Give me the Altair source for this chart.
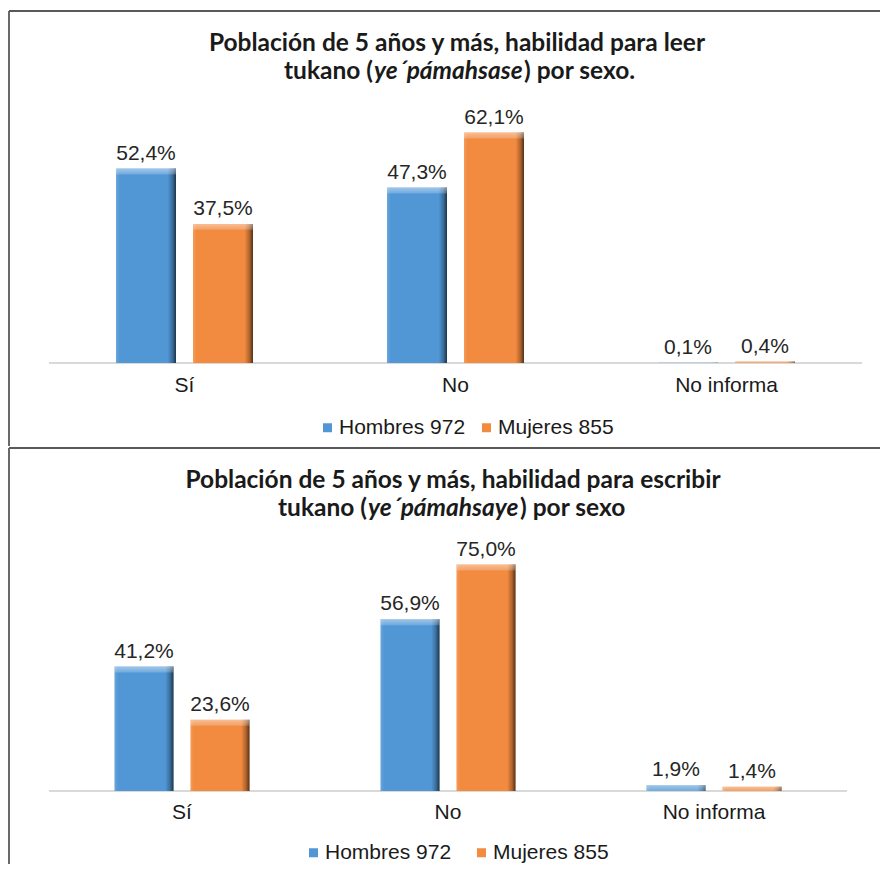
import altair as alt
import pandas as pd

categories = ["Sí", "No", "No informa"]
series = ["Hombres 972", "Mujeres 855"]
leer_hombres = [52.4, 47.3, 0.1]
leer_mujeres = [37.5, 62.1, 0.4]
escribir_hombres = [41.2, 56.9, 1.9]
escribir_mujeres = [23.6, 75.0, 1.4]
title_leer = ["Población de 5 años y más, habilidad para leer", "tukano (", "ye´pámahsase", ") por sexo."]
title_escribir = ["Población de 5 años y más, habilidad para escribir", "tukano (", "ye´pámahsaye", ") por sexo"]
colors = ["#5197d6", "#f28a3f"]

TFONT = "Lato"
LFONT = "Liberation Sans"


def make_df(h, m):
    rows = []
    for s, vals in zip(series, [h, m]):
        for c, v in zip(categories, vals):
            rows.append({"categoria": c, "sexo": s, "valor": v,
                         "etiqueta": f"{v:.1f}".replace(".", ",") + "%"})
    return pd.DataFrame(rows)


shade_grad = alt.Gradient(
    gradient="linear", x1=0, x2=1, y1=0, y2=0,
    stops=[
        alt.GradientStop(offset=0, color="rgba(255,255,255,0.15)"),
        alt.GradientStop(offset=0.06, color="rgba(255,255,255,0)"),
        alt.GradientStop(offset=0.86, color="rgba(0,0,0,0)"),
        alt.GradientStop(offset=0.94, color="rgba(0,0,0,0.28)"),
        alt.GradientStop(offset=1, color="rgba(0,0,0,0.65)"),
    ],
)
top_grad = alt.Gradient(
    gradient="linear", x1=0, x2=0, y1=0, y2=1,
    stops=[
        alt.GradientStop(offset=0, color="rgba(255,255,255,0.45)"),
        alt.GradientStop(offset=1, color="rgba(255,255,255,0.18)"),
    ],
)


def panel(df, titles, g):
    W, H = 873, g["H"]
    one = pd.DataFrame({"k": [0]})
    xs = alt.X("categoria:N", sort=categories, axis=None,
               scale=alt.Scale(paddingInner=0, paddingOuter=g["xpo"], align=g["xal"]))
    xo = alt.XOffset("sexo:N", sort=series,
                     scale=alt.Scale(paddingInner=g["pi"], paddingOuter=g["po"]))
    ys = alt.Y("valor:Q", axis=None, scale=alt.Scale(domain=[0, 100], range=g["yr"]))
    base = alt.Chart(df)

    baseline = alt.Chart(one).mark_rule(color="#d9d9d9", strokeWidth=2).encode(
        x=alt.value(g["xr"][0]), x2=alt.value(g["xr"][1]),
        y=alt.Y(datum=0, type="quantitative", axis=None))
    bars = base.mark_bar().encode(
        x=xs, xOffset=xo, y=ys,
        color=alt.Color("sexo:N", sort=series,
                        scale=alt.Scale(domain=series, range=colors),
                        legend=alt.Legend(orient="none", legendX=g["lx"], legendY=g["ly"],
                                          direction="horizontal", title=None,
                                          symbolType="square", symbolSize=81,
                                          symbolStrokeWidth=0, labelFont=LFONT,
                                          labelFontSize=21, labelColor="#1a1a1a",
                                          labelOffset=1, columnPadding=g["cp"],
                                          padding=0, labelLimit=400)))
    shade = base.mark_bar(color=shade_grad).encode(x=xs, xOffset=xo, y=ys)
    topband = base.transform_calculate(
        b=f"max(datum.valor - {g['band']}, 0)"
    ).mark_bar(color=top_grad).encode(x=xs, xOffset=xo, y=ys, y2="b:Q")
    labels = base.mark_text(dy=-15, baseline="middle", fontSize=21, font=LFONT,
                            color="#262626").encode(x=xs, xOffset=xo, y=ys, text="etiqueta:N")
    cats = alt.Chart(pd.DataFrame({"categoria": categories})).mark_text(
        baseline="middle", fontSize=21, font=LFONT, color="#1a1a1a"
    ).encode(x=xs, y=alt.value(g["caty"]), text="categoria:N")

    t1 = alt.Chart(one).mark_text(text=titles[0], font=TFONT, fontWeight="bold",
                                  fontSize=g["tfs"], align="center", baseline="middle",
                                  color="#1a1a1a").encode(
        x=alt.value(g["tx"]), y=alt.value(g["t1y"]))
    t2a = alt.Chart(one).mark_text(text=titles[1], font=TFONT, fontWeight="bold",
                                   fontSize=g["tfs"], align="right", baseline="middle",
                                   color="#1a1a1a").encode(
        x=alt.value(g["xa"]), y=alt.value(g["t2y"]))
    t2b = alt.Chart(one).mark_text(text=titles[2], font=TFONT, fontWeight="bold",
                                   fontStyle="italic", fontSize=g["tfs"], align="left",
                                   baseline="middle", color="#1a1a1a").encode(
        x=alt.value(g["xa"] + 1), y=alt.value(g["t2y"]))
    t2c = alt.Chart(one).mark_text(text=titles[3], font=TFONT, fontWeight="bold",
                                   fontSize=g["tfs"], align="left", baseline="middle",
                                   color="#1a1a1a").encode(
        x=alt.value(g["xb"]), y=alt.value(g["t2y"]))

    border_top = alt.Chart(one).mark_rule(color="#595959", strokeWidth=1.8).encode(
        x=alt.value(1), x2=alt.value(W - 1), y=alt.value(g["topy"]))
    border_left = alt.Chart(one).mark_rule(color="#595959", strokeWidth=1.8).encode(
        x=alt.value(1), y=alt.value(g["topy"]), y2=alt.value(H - 1))

    return alt.layer(baseline, bars, shade, topband, labels, cats, t1, t2a, t2b, t2c,
                     border_top, border_left).properties(width=W, height=H)


g1 = dict(H=439, xr=[41, 854], xpo=0.1107, xal=0.6833, pi=0.2208, po=0.87,
          yr=[355, -16], band=1.6, caty=378, lx=309, ly=409, cp=10, topy=3, tfs=24.5,
          tx=449, t1y=36, t2y=64, xa=365, xb=516)
g2 = dict(H=418, xr=[41, 839], xpo=0.141, xal=0.5467, pi=0.2237, po=0.8618,
          yr=[344, 42], band=2.0, caty=366, lx=295, ly=395, cp=19, topy=1, tfs=24.5,
          tx=445, t1y=34, t2y=62, xa=359, xb=512)

p1 = panel(make_df(leer_hombres, leer_mujeres), title_leer, g1)
p2 = panel(make_df(escribir_hombres, escribir_mujeres), title_escribir, g2)

chart = alt.vconcat(p1, p2, spacing=0).resolve_scale(
    color="independent", xOffset="independent"
).resolve_legend(color="independent").properties(padding=0).configure_view(stroke=None)

chart.save("out.html", embed_options={"renderer": "svg", "actions": False})
